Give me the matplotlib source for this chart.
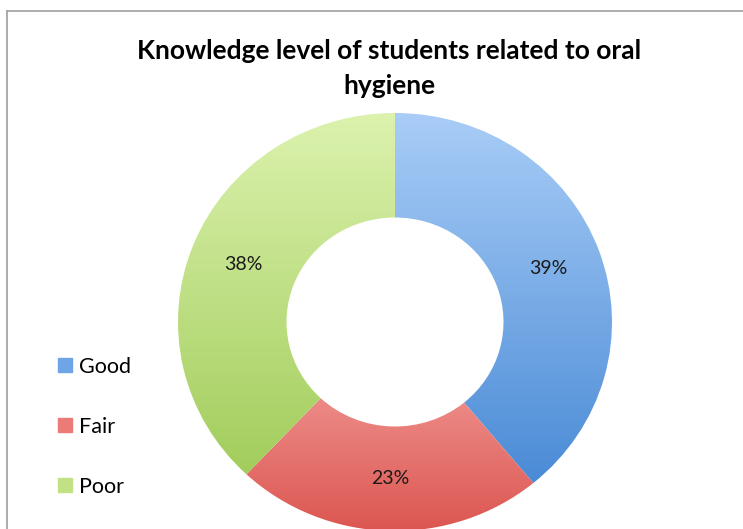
import numpy as np
import matplotlib
matplotlib.use("Agg")
import matplotlib.pyplot as plt
from matplotlib.colors import to_rgb
from matplotlib.lines import Line2D

# data
categories = ["Good", "Fair", "Poor"]
shares = [39, 23, 38]
labels = ["39%", "23%", "38%"]

# excel style gradient, light at top -> dark at bottom
top_colors = ["#a9cdf7", "#f6a9a6", "#dcf2ae"]
bottom_colors = ["#4a8bd6", "#dc5550", "#a2cd5c"]
legend_colors = ["#6ea5e6", "#ec7b77", "#c2e185"]

W, H = 743, 529
fig = plt.figure(figsize=(W / 100, H / 100), dpi=100)
fig.patch.set_facecolor("white")

# chart frame (only left/top edges are inside the picture)
fig.add_artist(Line2D([7.5 / W, 7.5 / W], [0, 1 - 10.5 / H], color="#a6a6a6", lw=1.3))
fig.add_artist(Line2D([7.5 / W, 1], [1 - 10.5 / H, 1 - 10.5 / H], color="#a6a6a6", lw=1.3))

# picture is slightly stretched sideways, so the ring is a bit wider than tall
cx, cy, rx, ry = 395, 322, 217, 209
ax = fig.add_axes([(cx - rx) / W, (H - cy - ry) / H, 2 * rx / W, 2 * ry / H])

wedges, _ = ax.pie(shares, startangle=90, counterclock=False, radius=1,
                   wedgeprops=dict(width=0.5, linewidth=0))

for w, c_top, c_bot in zip(wedges, top_colors, bottom_colors):
    verts = w.get_path().vertices
    x0, x1 = verts[:, 0].min(), verts[:, 0].max()
    y0, y1 = verts[:, 1].min(), verts[:, 1].max()
    t = np.linspace(0, 1, 256)[:, None]
    grad = (1 - t) * np.array(to_rgb(c_top)) + t * np.array(to_rgb(c_bot))
    w.set_facecolor("none")
    im = ax.imshow(grad[:, None, :], extent=(x0, x1, y0, y1), origin="upper",
                   aspect="auto", interpolation="bilinear", zorder=1)
    im.set_clip_path(w)

# percentage labels in the middle of the ring
angle = 90.0
for share, lab in zip(shares, labels):
    mid = np.deg2rad(angle - share * 3.6 / 2)
    angle -= share * 3.6
    ax.text(0.75 * np.cos(mid), 0.75 * np.sin(mid), lab, ha="center", va="center",
            fontsize=14, family="Lato", color="#1a1a1a", zorder=3)

ax.set_xlim(-1, 1)
ax.set_ylim(-1, 1)
ax.set_aspect("auto")
ax.axis("off")

fig.text(389 / W, 1 - 51 / H, "Knowledge level of students related to oral",
         ha="center", va="center", fontsize=19, fontweight="bold", family="Lato")
fig.text(389 / W, 1 - 86 / H, "hygiene",
         ha="center", va="center", fontsize=19, fontweight="bold", family="Lato")

handles = [Line2D([], [], marker="s", linestyle="none", markersize=10,
                  markerfacecolor=c, markeredgecolor=c) for c in legend_colors]
fig.legend(handles, categories, loc="upper left", bbox_to_anchor=(54 / W, 1 - 357 / H),
           frameon=False, prop=dict(family="Lato", size=15.5), labelspacing=1.85,
           handletextpad=0.15, handlelength=1.0, borderpad=0, borderaxespad=0)

fig.savefig("out.png", dpi=100, facecolor="white")
